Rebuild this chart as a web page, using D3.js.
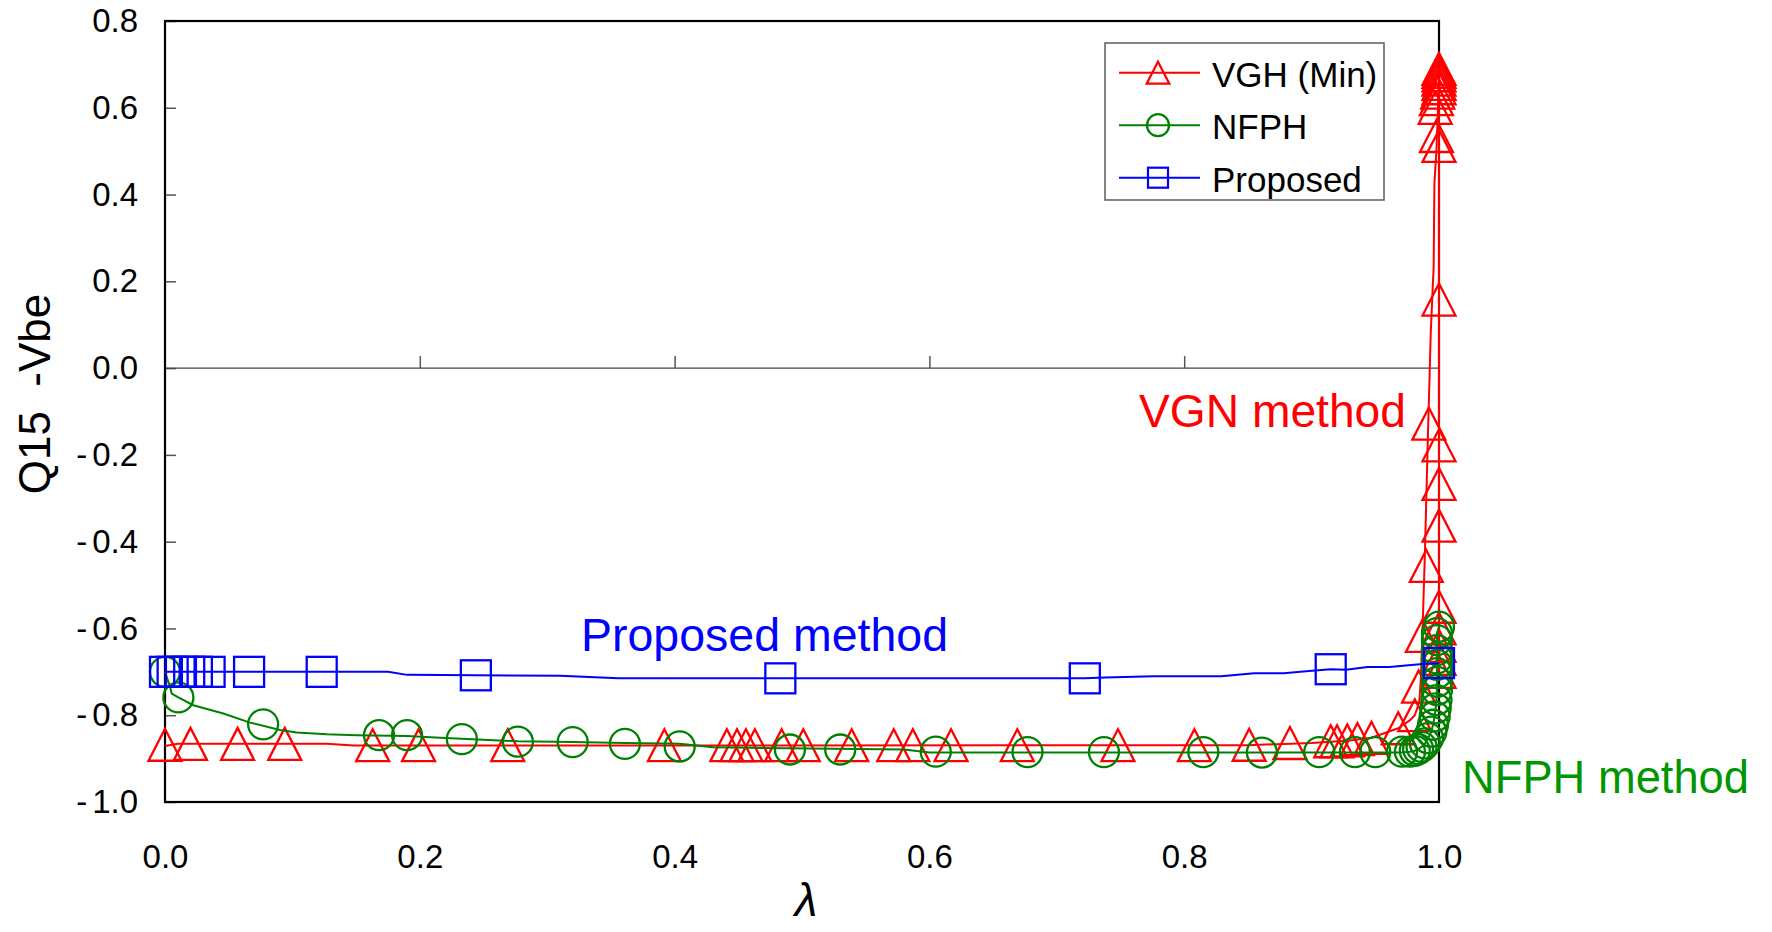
<!DOCTYPE html>
<html>
<head>
<meta charset="utf-8">
<script src="https://cdn.jsdelivr.net/npm/d3@7"></script>
<style>
  html, body { margin: 0; padding: 0; background: #fff; }
  svg { display: block; }
  text { font-family: "Liberation Sans", Arial, sans-serif; }
</style>
</head>
<body>
<svg id="chart" width="1772" height="932"></svg>
<script>
// ---- data: homotopy path traces of Q15 -Vbe versus lambda ----
const xTicks = [0, 0.2, 0.4, 0.6, 0.8, 1.0];
const yTicks = [-1.0, -0.8, -0.6, -0.4, -0.2, 0.0, 0.2, 0.4, 0.6, 0.8];
const seriesNames = ["VGH (Min)", "NFPH", "Proposed"];

// VGH (Min): path vertices and marked points [lambda, value]
const vghLine = [
  [0, -0.871], [0.01, -0.866], [0.127, -0.866], [0.148, -0.870], [0.85, -0.869],
  [0.90, -0.864], [0.93, -0.858], [0.947, -0.852], [0.968, -0.830], [0.977, -0.812],
  [0.981, -0.800], [0.9845, -0.770], [0.9857, -0.719], [0.9871, -0.600], [0.989, -0.420],
  [0.9914, -0.143], [0.9925, -0.030], [0.9935, 0.080], [0.9958, 0.233], [0.9964, 0.426],
  [0.998, 0.502], [0.999, 0.580], [1.0, 0.690], [1.0, -0.700]
];
const vghMarks = [
  [0, -0.868], [0.020, -0.866], [0.057, -0.866], [0.094, -0.866], [0.163, -0.869],
  [0.199, -0.869], [0.269, -0.869], [0.392, -0.869], [0.441, -0.869], [0.449, -0.869],
  [0.456, -0.869], [0.463, -0.869], [0.484, -0.869], [0.501, -0.869], [0.539, -0.869],
  [0.572, -0.869], [0.587, -0.869], [0.617, -0.869], [0.669, -0.869], [0.748, -0.869],
  [0.808, -0.869], [0.851, -0.868], [0.883, -0.864], [0.915, -0.860], [0.920, -0.860],
  [0.928, -0.858], [0.936, -0.855], [0.947, -0.852], [0.968, -0.830], [0.981, -0.800],
  [0.984, -0.734], [0.987, -0.617], [0.990, -0.456], [0.992, -0.128],
  [0.997, 0.600], [0.998, 0.620], [0.999, 0.635], [1.0, 0.645], [1.0, 0.655],
  [1.0, 0.665], [1.0, 0.675], [1.0, 0.683], [1.0, 0.690], [0.998, 0.535], [1.0, 0.512],
  [1.0, 0.158], [1.0, -0.178], [1.0, -0.267], [1.0, -0.363], [1.0, -0.550],
  [1.0, -0.600], [1.0, -0.640], [1.0, -0.670], [1.0, -0.700]
];

// NFPH
const nfphLine = [
  [0, -0.700], [0.0039, -0.734], [0.0052, -0.750], [0.0105, -0.759], [0.0222, -0.777],
  [0.0458, -0.796], [0.0667, -0.817], [0.0903, -0.834], [0.1034, -0.840], [0.127, -0.844],
  [0.150, -0.846], [0.19, -0.848], [0.216, -0.852], [0.277, -0.860], [0.320, -0.862],
  [0.361, -0.864], [0.404, -0.866], [0.43, -0.874], [0.58, -0.879], [0.600, -0.886],
  [0.97, -0.886], [0.9772, -0.884], [0.981, -0.882], [0.9836, -0.878], [0.9863, -0.873],
  [0.989, -0.865], [0.9914, -0.853], [0.994, -0.838], [0.9953, -0.822], [0.9966, -0.803],
  [0.9974, -0.784], [0.998, -0.765], [0.9984, -0.742], [0.9984, -0.611], [1.0, -0.596]
];
const nfphMarks = [
  [0, -0.700], [0.0105, -0.759], [0.077, -0.821], [0.168, -0.846], [0.19, -0.846],
  [0.233, -0.855], [0.277, -0.861], [0.320, -0.862], [0.361, -0.866], [0.404, -0.872],
  [0.4905, -0.879], [0.530, -0.879], [0.605, -0.884], [0.677, -0.885], [0.737, -0.885],
  [0.815, -0.885], [0.861, -0.886], [0.906, -0.885], [0.934, -0.885], [0.950, -0.885],
  [0.971, -0.884], [0.9772, -0.884], [0.981, -0.882], [0.9836, -0.878], [0.9863, -0.873],
  [0.989, -0.865], [0.9914, -0.853], [0.994, -0.838], [0.9953, -0.822], [0.9966, -0.803],
  [0.9974, -0.784], [0.998, -0.765], [0.9984, -0.742], [0.9984, -0.723], [0.9984, -0.703],
  [0.9984, -0.684], [0.9984, -0.669], [0.9984, -0.650], [0.9984, -0.627], [0.9984, -0.611],
  [1.0, -0.596]
];

// Proposed
const proposedLine = [
  [0, -0.700], [0.006, -0.700], [0.0125, -0.700], [0.019, -0.700], [0.025, -0.700],
  [0.035, -0.700], [0.066, -0.700], [0.123, -0.700], [0.175, -0.700], [0.19, -0.707],
  [0.244, -0.708], [0.31, -0.709], [0.356, -0.715], [0.483, -0.715], [0.722, -0.715],
  [0.738, -0.713], [0.776, -0.710], [0.829, -0.710], [0.855, -0.703], [0.878, -0.703],
  [0.898, -0.698], [0.915, -0.694], [0.927, -0.695], [0.944, -0.689], [0.961, -0.689],
  [0.987, -0.682], [1.0, -0.680]
];
const proposedMarks = [
  [0, -0.700], [0.006, -0.700], [0.0125, -0.700], [0.019, -0.700], [0.025, -0.700],
  [0.035, -0.700], [0.066, -0.700], [0.123, -0.700], [0.244, -0.708], [0.483, -0.715],
  [0.722, -0.715], [0.915, -0.694], [1.0, -0.680]
];

// ---- layout ----
const svg = d3.select("#chart");
const plotL = 165, plotR = 1439, plotT = 21, plotB = 802;
const x = d3.scaleLinear().domain([0, 1]).range([plotL, plotR]);
const y = d3.scaleLinear().domain([-1, 0.8]).range([plotB, plotT]);

const RED = "#ff0000", GREEN = "#008000", BLUE = "#0000ff";

// y axis: ticks point into the plot, labels on the left
const yAxis = svg.append("g")
  .attr("transform", `translate(${plotL},0)`)
  .call(d3.axisLeft(y).tickValues(yTicks).tickSizeInner(-11).tickSizeOuter(0).tickPadding(27));
yAxis.select(".domain").remove();
yAxis.selectAll(".tick line").attr("stroke", "#555").attr("stroke-width", 1.5);
yAxis.selectAll(".tick text")
  .attr("font-size", 33).attr("fill", "#000")
  .attr("font-family", "'Liberation Sans', Arial, sans-serif")
  .each(function (d) {
    const t = d3.select(this).text(null);
    if (d < 0) {
      t.append("tspan").text("-");
      t.append("tspan").attr("dx", 5).text(Math.abs(d).toFixed(1));
    } else {
      t.text(d.toFixed(1));
    }
  });

// x axis labels along the bottom
const xAxis = svg.append("g")
  .attr("transform", `translate(0,${plotB})`)
  .call(d3.axisBottom(x).tickValues(xTicks).tickSize(0).tickPadding(43));
xAxis.select(".domain").remove();
xAxis.selectAll(".tick text")
  .attr("font-size", 33).attr("fill", "#000")
  .attr("font-family", "'Liberation Sans', Arial, sans-serif")
  .text(d => d.toFixed(1));

// zero line with upward ticks
svg.append("line")
  .attr("x1", plotL).attr("x2", plotR).attr("y1", y(0)).attr("y2", y(0))
  .attr("stroke", "#444").attr("stroke-width", 1.4);
const zeroAxis = svg.append("g")
  .attr("transform", `translate(0,${y(0)})`)
  .call(d3.axisTop(x).tickValues(xTicks.filter(v => v > 0 && v < 1)).tickSize(12).tickFormat(""));
zeroAxis.select(".domain").remove();
zeroAxis.selectAll(".tick line").attr("stroke", "#555").attr("stroke-width", 1.5);

// plot frame
svg.append("rect")
  .attr("x", plotL).attr("y", plotT).attr("width", plotR - plotL).attr("height", plotB - plotT)
  .attr("fill", "none").attr("stroke", "#000").attr("stroke-width", 2.2);

// axis titles
svg.append("text")
  .attr("transform", "translate(50,394) rotate(-90)")
  .attr("text-anchor", "middle")
  .attr("font-size", 44)
  .attr("fill", "#000")
  .attr("xml:space", "preserve")
  .style("white-space", "pre")
  .text("Q15  -Vbe");

svg.append("text")
  .attr("x", x(0.5) + 4).attr("y", 916)
  .attr("text-anchor", "middle")
  .attr("font-family", "'Liberation Serif', 'DejaVu Serif', serif")
  .attr("font-style", "italic")
  .attr("font-size", 46)
  .attr("fill", "#000")
  .text("λ");

// ---- marker shapes ----
function triPath(w, h) {
  return `M0,${-h / 2}L${w / 2},${h / 2}L${-w / 2},${h / 2}Z`;
}
function drawMarker(g, kind, size, color, sw) {
  if (kind === "tri") {
    g.append("path").attr("d", triPath(size * 1.03, size)).attr("fill", "none")
      .attr("stroke", color).attr("stroke-width", sw).attr("stroke-linejoin", "miter");
  } else if (kind === "circle") {
    g.append("circle").attr("r", size / 2).attr("fill", "none")
      .attr("stroke", color).attr("stroke-width", sw);
  } else {
    g.append("rect").attr("x", -size / 2).attr("y", -size / 2)
      .attr("width", size).attr("height", size).attr("fill", "none")
      .attr("stroke", color).attr("stroke-width", sw);
  }
}

const series = [
  { name: seriesNames[0], line: vghLine, marks: vghMarks, color: RED, kind: "tri", size: 32 },
  { name: seriesNames[1], line: nfphLine, marks: nfphMarks, color: GREEN, kind: "circle", size: 30 },
  { name: seriesNames[2], line: proposedLine, marks: proposedMarks, color: BLUE, kind: "square", size: 30 }
];

const lineGen = d3.line().x(d => x(d[0])).y(d => y(d[1]));

series.forEach(s => {
  const g = svg.append("g");
  g.append("path").datum(s.line)
    .attr("d", lineGen).attr("fill", "none")
    .attr("stroke", s.color).attr("stroke-width", 2)
    .attr("stroke-linejoin", "round");
  g.selectAll("g.mk").data(s.marks).join("g")
    .attr("class", "mk")
    .attr("transform", d => `translate(${x(d[0])},${y(d[1])})`)
    .each(function () { drawMarker(d3.select(this), s.kind, s.size, s.color, 2.3); });
});

// ---- annotations ----
const notes = [
  { text: "VGN method", x: 1139, y: 427, w: 267, color: RED },
  { text: "Proposed method", x: 581, y: 651, w: 367, color: BLUE },
  { text: "NFPH method", x: 1462, y: 793, w: 287, color: "#009600" }
];
notes.forEach(n => {
  svg.append("text")
    .attr("x", n.x).attr("y", n.y)
    .attr("font-family", "'DejaVu Sans', sans-serif")
    .attr("font-stretch", "condensed")
    .attr("font-size", 46)
    .attr("textLength", n.w)
    .attr("lengthAdjust", "spacingAndGlyphs")
    .attr("fill", n.color)
    .text(n.text);
});

// ---- legend ----
const legend = svg.append("g");
legend.append("rect")
  .attr("x", 1105).attr("y", 43).attr("width", 279).attr("height", 157)
  .attr("fill", "#fff").attr("stroke", "#666").attr("stroke-width", 1.6);
const legendSizes = { tri: 22, circle: 22, square: 20 };
series.forEach((s, i) => {
  const cy = 72.7 + i * 52.5;
  legend.append("line")
    .attr("x1", 1119).attr("x2", 1200).attr("y1", cy).attr("y2", cy)
    .attr("stroke", s.color).attr("stroke-width", 2);
  const mg = legend.append("g").attr("transform", `translate(1158,${cy})`);
  drawMarker(mg, s.kind, legendSizes[s.kind], s.color, 2.2);
  legend.append("text")
    .attr("x", 1212).attr("y", cy + 14)
    .attr("font-size", 35).attr("fill", "#000")
    .text(s.name);
});
</script>
</body>
</html>
